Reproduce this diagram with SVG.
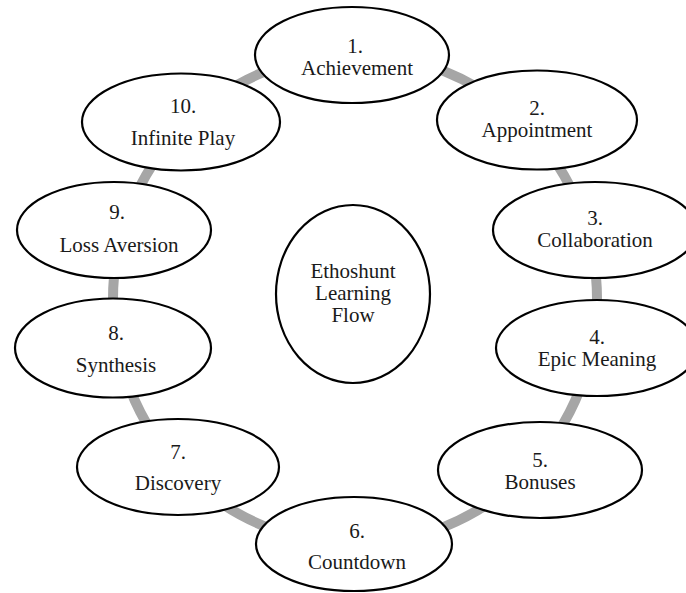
<svg xmlns="http://www.w3.org/2000/svg" width="686" height="593" viewBox="0 0 686 593">
<style>
.n{fill:#fff;stroke:#000;stroke-width:2.2}
.t{font-family:"Liberation Serif","Times New Roman",serif;font-size:21px;fill:#1a1a1a;text-anchor:middle}
.ring{fill:none;stroke:#a6a6a6;stroke-width:10}
</style>
<rect width="686" height="593" fill="#fff"/>
<g id="connectors">
<ellipse class="ring" cx="355" cy="299" rx="242" ry="245"/>
</g>
<g id="center">
<ellipse class="n" cx="353" cy="294" rx="77" ry="89"/>
<text class="t" x="353" y="278">Ethoshunt</text>
<text class="t" x="353" y="300">Learning</text>
<text class="t" x="353" y="322">Flow</text>
</g>
<g id="n1">
<ellipse class="n" cx="352" cy="55" rx="97" ry="48"/>
<text class="t" x="355" y="53">1.</text>
<text class="t" x="357" y="75">Achievement</text>
</g>
<g id="n2">
<ellipse class="n" cx="537" cy="120" rx="100" ry="49.5"/>
<text class="t" x="537" y="115">2.</text>
<text class="t" x="537" y="137">Appointment</text>
</g>
<g id="n3">
<ellipse class="n" cx="595" cy="230" rx="102" ry="48"/>
<text class="t" x="595" y="225">3.</text>
<text class="t" x="595" y="247">Collaboration</text>
</g>
<g id="n4">
<ellipse class="n" cx="597" cy="348" rx="101" ry="48"/>
<text class="t" x="597" y="344">4.</text>
<text class="t" x="597" y="366">Epic Meaning</text>
</g>
<g id="n5">
<ellipse class="n" cx="540" cy="470" rx="102" ry="48"/>
<text class="t" x="540" y="467">5.</text>
<text class="t" x="540" y="489">Bonuses</text>
</g>
<g id="n6">
<ellipse class="n" cx="354" cy="544" rx="98" ry="47"/>
<text class="t" x="357" y="538">6.</text>
<text class="t" x="357" y="569">Countdown</text>
</g>
<g id="n7">
<ellipse class="n" cx="178" cy="467" rx="101" ry="48"/>
<text class="t" x="178" y="459">7.</text>
<text class="t" x="178" y="490">Discovery</text>
</g>
<g id="n8">
<ellipse class="n" cx="113" cy="348" rx="98" ry="49.5"/>
<text class="t" x="116" y="340">8.</text>
<text class="t" x="116" y="372">Synthesis</text>
</g>
<g id="n9">
<ellipse class="n" cx="114" cy="230" rx="97" ry="48"/>
<text class="t" x="117" y="219">9.</text>
<text class="t" x="119" y="252">Loss Aversion</text>
</g>
<g id="n10">
<ellipse class="n" cx="181" cy="122" rx="99" ry="48.5"/>
<text class="t" x="183" y="113">10.</text>
<text class="t" x="183" y="145">Infinite Play</text>
</g>
</svg>
